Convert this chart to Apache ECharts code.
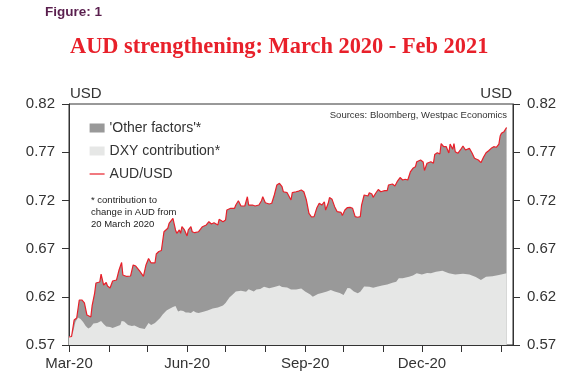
<!DOCTYPE html>
<html>
<head>
<meta charset="utf-8">
<script src="https://cdn.jsdelivr.net/npm/echarts@6/dist/echarts.min.js"></script>
<style>
html,body{margin:0;padding:0;background:#fff;}
#chart{width:588px;height:390px;}
</style>
</head>
<body>
<div id="chart"></div>
<script>
// ---- Data ----
const audDates = ['2020-03-20','2020-03-22','2020-03-24','2020-03-26','2020-03-28','2020-03-30','2020-04-01','2020-04-03','2020-04-06','2020-04-07',
'2020-04-09','2020-04-10','2020-04-13','2020-04-14','2020-04-16','2020-04-18','2020-04-19','2020-04-21','2020-04-23','2020-04-26',
'2020-04-28','2020-04-30','2020-05-01','2020-05-04','2020-05-07','2020-05-09','2020-05-11','2020-05-14','2020-05-17','2020-05-19',
'2020-05-21','2020-05-23','2020-05-26','2020-05-27','2020-05-29','2020-05-31','2020-06-02','2020-06-05','2020-06-06','2020-06-09',
'2020-06-10','2020-06-11','2020-06-12','2020-06-14','2020-06-15','2020-06-16','2020-06-18','2020-06-20','2020-06-21','2020-06-23',
'2020-06-24','2020-06-26','2020-06-29','2020-07-02','2020-07-05','2020-07-07','2020-07-09','2020-07-11','2020-07-14','2020-07-15',
'2020-07-18','2020-07-20','2020-07-21','2020-07-24','2020-07-27','2020-07-28','2020-07-30','2020-08-01','2020-08-02','2020-08-04',
'2020-08-06','2020-08-07','2020-08-10','2020-08-12','2020-08-15','2020-08-17','2020-08-18','2020-08-20','2020-08-23','2020-08-25',
'2020-08-27','2020-08-29','2020-08-31','2020-09-02','2020-09-03','2020-09-06','2020-09-07','2020-09-09','2020-09-10','2020-09-13',
'2020-09-15','2020-09-17','2020-09-19','2020-09-21','2020-09-23','2020-09-25','2020-09-27','2020-09-29','2020-10-01','2020-10-03',
'2020-10-05','2020-10-06','2020-10-08','2020-10-09','2020-10-11','2020-10-13','2020-10-15','2020-10-18','2020-10-19','2020-10-21',
'2020-10-23','2020-10-25','2020-10-27','2020-10-29','2020-10-31','2020-11-02','2020-11-03','2020-11-05','2020-11-06','2020-11-08',
'2020-11-09','2020-11-11','2020-11-12','2020-11-14','2020-11-16','2020-11-18','2020-11-21','2020-11-23','2020-11-24','2020-11-27',
'2020-11-29','2020-12-01','2020-12-03','2020-12-05','2020-12-07','2020-12-09','2020-12-11','2020-12-13','2020-12-15','2020-12-16',
'2020-12-19','2020-12-21','2020-12-22','2020-12-24','2020-12-27','2020-12-29','2020-12-30','2021-01-01','2021-01-03','2021-01-04',
'2021-01-06','2021-01-08','2021-01-10','2021-01-11','2021-01-13','2021-01-14','2021-01-15','2021-01-17','2021-01-19','2021-01-21',
'2021-01-23','2021-01-24','2021-01-26','2021-01-28','2021-01-30','2021-01-31','2021-02-02','2021-02-04','2021-02-06','2021-02-08',
'2021-02-10','2021-02-12','2021-02-14','2021-02-16','2021-02-18','2021-02-19','2021-02-20','2021-02-22','2021-02-24'];

const audValues = [0.5783,0.5788,0.5959,0.5980,0.6167,0.6167,0.6136,0.6011,0.5990,0.6105,
0.6239,0.6343,0.6354,0.6436,0.6322,0.6348,0.6312,0.6291,0.6364,0.6374,
0.6478,0.6556,0.6426,0.6411,0.6416,0.6530,0.6519,0.6468,0.6411,0.6530,
0.6597,0.6551,0.6551,0.6644,0.6670,0.6680,0.6875,0.6911,0.6962,0.7014,
0.6997,0.6893,0.6859,0.6893,0.6859,0.6927,0.6893,0.6831,0.6893,0.6927,
0.6875,0.6865,0.6875,0.6927,0.6945,0.6979,0.6955,0.6969,0.6945,0.7004,
0.6979,0.6997,0.7100,0.7118,0.7118,0.7152,0.7197,0.7142,0.7128,0.7142,
0.7238,0.7152,0.7152,0.7142,0.7152,0.7197,0.7238,0.7176,0.7163,0.7170,
0.7256,0.7360,0.7377,0.7342,0.7290,0.7280,0.7274,0.7204,0.7280,0.7290,
0.7297,0.7308,0.7290,0.7204,0.7066,0.7028,0.7031,0.7118,0.7170,0.7152,
0.7186,0.7100,0.7170,0.7230,0.7211,0.7135,0.7083,0.7076,0.7043,0.7100,
0.7126,0.7128,0.7118,0.7031,0.7025,0.7031,0.7152,0.7256,0.7274,0.7246,
0.7280,0.7266,0.7232,0.7274,0.7313,0.7290,0.7301,0.7301,0.7360,0.7370,
0.7349,0.7401,0.7437,0.7412,0.7419,0.7412,0.7495,0.7533,0.7550,0.7601,
0.7619,0.7598,0.7510,0.7585,0.7601,0.7585,0.7676,0.7695,0.7681,0.7790,
0.7757,0.7757,0.7692,0.7785,0.7730,0.7790,0.7705,0.7689,0.7723,0.7764,
0.7723,0.7715,0.7740,0.7695,0.7637,0.7626,0.7619,0.7591,0.7647,0.7695,
0.7715,0.7740,0.7757,0.7751,0.7785,0.7868,0.7896,0.7913,0.7956];

const dxyDates = ['2020-03-20','2020-03-23','2020-03-25','2020-03-27','2020-03-29','2020-03-31','2020-04-02','2020-04-04','2020-04-06','2020-04-08',
'2020-04-11','2020-04-14','2020-04-16','2020-04-18','2020-04-21','2020-04-23','2020-04-26','2020-04-29','2020-04-30','2020-05-02',
'2020-05-05','2020-05-08','2020-05-10','2020-05-14','2020-05-18','2020-05-21','2020-05-23','2020-05-26','2020-05-30','2020-06-01',
'2020-06-04','2020-06-06','2020-06-09','2020-06-11','2020-06-13','2020-06-15','2020-06-17','2020-06-19','2020-06-21','2020-06-23',
'2020-06-25','2020-06-27','2020-06-29','2020-07-02','2020-07-06','2020-07-10','2020-07-14','2020-07-18','2020-07-20','2020-07-23',
'2020-07-26','2020-07-28','2020-08-01','2020-08-05','2020-08-07','2020-08-11','2020-08-13','2020-08-16','2020-08-19','2020-08-23',
'2020-08-27','2020-08-31','2020-09-02','2020-09-06','2020-09-09','2020-09-13','2020-09-17','2020-09-20','2020-09-24','2020-09-26',
'2020-09-30','2020-10-03','2020-10-07','2020-10-10','2020-10-13','2020-10-17','2020-10-20','2020-10-23','2020-10-25','2020-10-28',
'2020-10-31','2020-11-02','2020-11-05','2020-11-09','2020-11-12','2020-11-15','2020-11-19','2020-11-23','2020-11-27','2020-11-30',
'2020-12-02','2020-12-05','2020-12-10','2020-12-13','2020-12-16','2020-12-20','2020-12-24','2020-12-27','2020-12-31','2021-01-05',
'2021-01-10','2021-01-15','2021-01-21','2021-01-26','2021-01-31','2021-02-04','2021-02-08','2021-02-13','2021-02-18','2021-02-24'];

const dxyValues = [0.5783,0.5824,0.5939,0.5985,0.5970,0.5939,0.5897,0.5871,0.5887,0.5923,
0.5928,0.5949,0.5918,0.5892,0.5887,0.5876,0.5892,0.5907,0.5949,0.5944,
0.5907,0.5897,0.5902,0.5876,0.5866,0.5928,0.5907,0.5928,0.5980,0.6016,
0.6058,0.6073,0.6094,0.6105,0.6047,0.6058,0.6053,0.6037,0.6037,0.6032,
0.6053,0.6037,0.6032,0.6042,0.6058,0.6079,0.6089,0.6110,0.6136,0.6193,
0.6229,0.6255,0.6263,0.6253,0.6278,0.6255,0.6276,0.6281,0.6305,0.6288,
0.6302,0.6317,0.6302,0.6296,0.6276,0.6276,0.6286,0.6255,0.6224,0.6201,
0.6229,0.6239,0.6255,0.6271,0.6255,0.6239,0.6219,0.6291,0.6288,0.6255,
0.6236,0.6253,0.6307,0.6305,0.6293,0.6305,0.6317,0.6328,0.6346,0.6357,
0.6392,0.6392,0.6408,0.6421,0.6444,0.6431,0.6447,0.6444,0.6460,0.6471,
0.6444,0.6431,0.6440,0.6431,0.6405,0.6374,0.6408,0.6414,0.6426,0.6444];

const tickDates = ['2020-03-20','2020-04-20','2020-05-20','2020-06-20','2020-07-20','2020-08-20',
'2020-09-20','2020-10-20','2020-11-20','2020-12-20','2021-01-20','2021-02-20'];
const labelDates = ['2020-03-20','2020-06-20','2020-09-20','2020-12-20'];
const yTicks = [0.57, 0.62, 0.67, 0.72, 0.77, 0.82];
const seriesNames = ["'Other factors'*", 'DXY contribution*', 'AUD/USD'];
const axisStart = '2020-03-20';
const axisEnd = '2021-03-01';

// ---- helpers ----
const MONTHS = ['Jan','Feb','Mar','Apr','May','Jun','Jul','Aug','Sep','Oct','Nov','Dec'];
function ts(s) { const p = s.split('-').map(Number); return new Date(p[0], p[1] - 1, p[2]).getTime(); }
function zip(d, v) { return d.map((x, i) => [ts(x), v[i]]); }

const FONT = 'Liberation Sans, Arial, sans-serif';
const TXT = '#333333';

const chart = echarts.init(document.getElementById('chart'), null, { renderer: 'canvas' });

const yAxisBase = {
  type: 'value',
  min: yTicks[0],
  max: yTicks[yTicks.length - 1],
  splitLine: { show: false },
  axisLine: { show: true, lineStyle: { color: '#333', width: 1 } },
  axisTick: { show: true, inside: false, length: 7, lineStyle: { color: '#333', width: 1 }, customValues: yTicks },
  axisLabel: { show: true, margin: 14, color: TXT, fontSize: 15, fontFamily: FONT,
    customValues: yTicks, formatter: v => Number(v).toFixed(2) }
};

chart.setOption({
  animation: false,
  backgroundColor: '#ffffff',
  grid: { left: 69, right: 75, top: 104, bottom: 45, show: true, borderColor: '#333', borderWidth: 1, backgroundColor: 'transparent' },
  legend: {
    orient: 'vertical', left: 84, top: 115,
    itemWidth: 15, itemHeight: 9, itemGap: 7,
    textStyle: { fontSize: 14, color: TXT, fontFamily: FONT, lineHeight: 16 },
    selectedMode: false,
    data: [
      { name: seriesNames[0], icon: 'rect', itemStyle: { color: '#999999' } },
      { name: seriesNames[1], icon: 'rect', itemStyle: { color: '#e6e7e6' } },
      { name: seriesNames[2], itemStyle: { color: 'rgba(0,0,0,0)', borderWidth: 0 }, lineStyle: { color: '#e8202a', width: 1.2 } }
    ]
  },
  xAxis: {
    type: 'value',
    min: ts(axisStart),
    max: ts(axisEnd),
    splitLine: { show: false },
    axisLine: { show: true, onZero: false, lineStyle: { color: '#333', width: 1 } },
    axisTick: { show: true, inside: false, length: 7, lineStyle: { color: '#333', width: 1 }, customValues: tickDates.map(ts) },
    axisLabel: {
      show: true, margin: 11, color: TXT, fontSize: 15, fontFamily: FONT,
      customValues: labelDates.map(ts),
      formatter: function (v) { const d = new Date(v); return MONTHS[d.getMonth()] + '-' + String(d.getFullYear()).slice(2); }
    }
  },
  yAxis: [
    Object.assign({}, yAxisBase, { position: 'left' }),
    Object.assign({}, yAxisBase, { position: 'right' })
  ],
  series: [
    { name: seriesNames[0], type: 'line', data: zip(audDates, audValues), symbol: 'none', silent: true,
      color: '#999999', lineStyle: { width: 0 }, areaStyle: { color: '#999999', opacity: 1 }, z: 1 },
    { name: seriesNames[1], type: 'line', data: zip(dxyDates, dxyValues), symbol: 'none', silent: true,
      color: '#e6e7e6', lineStyle: { width: 0 }, areaStyle: { color: '#e6e7e6', opacity: 1 }, z: 2 },
    { name: seriesNames[2], type: 'line', data: zip(audDates, audValues), symbol: 'none', silent: true,
      color: '#e8202a', lineStyle: { color: '#e8202a', width: 1.2 }, z: 3 }
  ],
  graphic: [
    { type: 'text', left: 45, top: 5, style: { text: 'Figure: 1', font: 'bold 13.5px ' + FONT, fill: '#5a1f4e' } },
    { type: 'text', left: 70, top: 36, style: { text: 'AUD strengthening: March 2020 - Feb 2021', font: 'bold 22.4px Liberation Serif, Times New Roman, serif', fill: '#e8202a' } },
    { type: 'text', left: 70, top: 86, style: { text: 'USD', font: '15px ' + FONT, fill: TXT } },
    { type: 'text', right: 76, top: 86, style: { text: 'USD', font: '15px ' + FONT, fill: TXT } },
    { type: 'text', right: 81, top: 110, style: { text: 'Sources: Bloomberg, Westpac Economics', font: '9.5px ' + FONT, fill: TXT } },
    { type: 'text', left: 91, top: 195, style: { text: '* contribution to\nchange in AUD from\n20 March 2020', font: '9.5px ' + FONT, fill: '#222', lineHeight: 11.7 } }
  ]
});
</script>
</body>
</html>
